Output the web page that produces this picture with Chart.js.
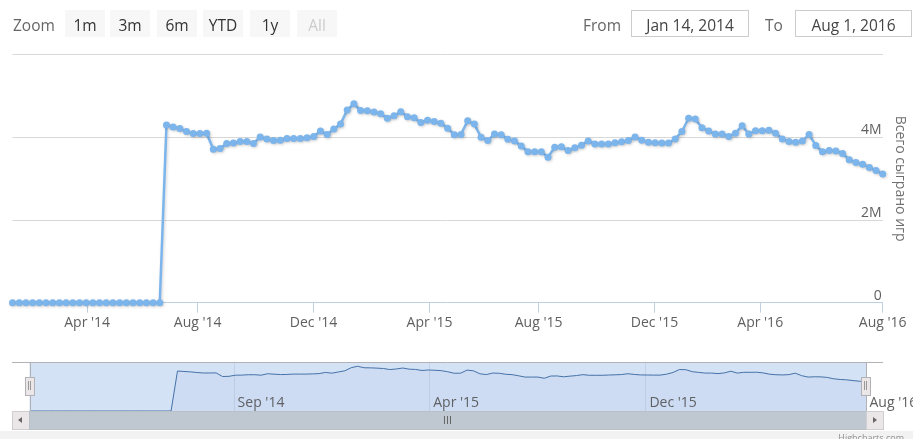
<!DOCTYPE html>
<html>
<head>
<meta charset="utf-8">
<script src="https://cdn.jsdelivr.net/npm/chart.js@4/dist/chart.umd.min.js"></script>
<style>
html,body{margin:0;padding:0;background:#f2f2f2;overflow:hidden;}
#wrap{position:relative;width:913px;height:431px;background:#fff;}
canvas{position:absolute;left:0;}
#main{top:0;}
#nav{top:340px;}
.rs{position:absolute;font-family:"Open Sans",sans-serif;font-size:15.5px;color:#666;line-height:27px;top:12px;white-space:nowrap;}
.btn{position:absolute;top:10px;width:40px;height:25px;padding-top:2px;background:#f7f7f7;text-align:center;color:#333;}
.btn.dis{color:#cccccc;}
.inp{position:absolute;top:10px;height:23px;padding-top:2px;border:1px solid #cccccc;text-align:center;color:#444;line-height:25px;}
.abs{position:absolute;}
#credit{position:absolute;right:9px;top:431px;font-family:"Open Sans",sans-serif;font-size:9px;color:#909090;}
</style>
</head>
<body>
<div id="wrap">
  <canvas id="main" width="913" height="345"></canvas>
  <canvas id="nav" width="913" height="80"></canvas>

  <div class="rs" style="left:13px;">Zoom</div>
  <div id="buttons"></div>
  <div class="rs" style="left:583px;">From</div>
  <div class="rs inp" style="left:631px;width:116px;">Jan 14, 2014</div>
  <div class="rs" style="left:765px;">To</div>
  <div class="rs inp" style="left:795px;width:115px;">Aug 1, 2016</div>

  <!-- navigator handles -->
  <div class="abs" style="left:25px;top:377px;width:8px;height:17px;background:#ebe7e8;border:1px solid #b2b1b6;"></div>
  <div class="abs" style="left:28px;top:381px;width:1px;height:9px;background:#999;"></div>
  <div class="abs" style="left:30px;top:381px;width:1px;height:9px;background:#999;"></div>
  <div class="abs" style="left:861px;top:377px;width:8px;height:17px;background:#ebe7e8;border:1px solid #b2b1b6;"></div>
  <div class="abs" style="left:864px;top:381px;width:1px;height:9px;background:#999;"></div>
  <div class="abs" style="left:866px;top:381px;width:1px;height:9px;background:#999;"></div>

  <!-- scrollbar -->
  <div class="abs" style="left:12px;top:411px;width:871px;height:18px;background:#eeeeee;"></div>
  <div class="abs" style="left:12px;top:411px;width:16px;height:17px;background:#ebe7e8;border:1px solid #cfcfcf;"></div>
  <div class="abs" style="left:18px;top:417px;width:0;height:0;border-top:3px solid transparent;border-bottom:3px solid transparent;border-right:4px solid #666;"></div>
  <div class="abs" style="left:29px;top:411px;width:836px;height:17px;background:#bfc8d1;border:1px solid #b8c0c8;"></div>
  <div class="abs" style="left:444px;top:416px;width:1px;height:8px;background:#666;"></div>
  <div class="abs" style="left:447px;top:416px;width:1px;height:8px;background:#666;"></div>
  <div class="abs" style="left:450px;top:416px;width:1px;height:8px;background:#666;"></div>
  <div class="abs" style="left:866px;top:411px;width:16px;height:17px;background:#ebe7e8;border:1px solid #cfcfcf;"></div>
  <div class="abs" style="left:873px;top:417px;width:0;height:0;border-top:3px solid transparent;border-bottom:3px solid transparent;border-left:4px solid #666;"></div>
</div>
<div id="credit">Highcharts.com</div>

<script>
// ---- data ----
const values = [
  0,0,0,0,0,0,0,0,0,0,0,0,0,0,0,0,0,0,0,0,0,0,0,
  4.30,4.25,4.21,4.14,4.09,4.09,4.10,3.71,3.73,3.85,
  3.86,3.90,3.90,3.85,4.01,3.96,3.92,3.93,3.97,3.97,
  3.97,3.99,4.02,4.15,4.07,4.20,4.32,4.66,4.81,4.65,
  4.64,4.61,4.57,4.46,4.52,4.62,4.50,4.47,4.36,4.41,
  4.38,4.34,4.22,4.06,4.07,4.40,4.32,4.00,3.92,4.08,
  4.06,3.95,3.91,3.79,3.65,3.65,3.65,3.52,3.76,3.77,
  3.68,3.75,3.81,3.91,3.84,3.84,3.84,3.87,3.89,3.92,
  4.01,3.93,3.88,3.87,3.86,3.86,3.96,4.14,4.46,4.44,
  4.23,4.15,4.08,4.08,4.02,4.10,4.28,4.08,4.16,4.16,
  4.17,4.10,3.96,3.90,3.88,3.91,4.07,3.80,3.65,3.68,
  3.67,3.61,3.46,3.39,3.35,3.27,3.20,3.11
];
const xTickPositions = [11.15, 27.66, 44.97, 62.3, 78.6, 95.9, 111.7, 130];
const xTickLabels = ["Apr '14","Aug '14","Dec '14","Apr '15","Aug '15","Dec '15","Apr '16","Aug '16"];
const navTickPositions = [31.8, 62.2, 95.8, 130];
const navTickLabels = ["Sep '14","Apr '15","Dec '15","Aug '16"];
const yTickValues = [0, 2, 4, 6];
const yTickLabels = ["0", "2M", "4M", ""];
const zoomButtons = ["1m","3m","6m","YTD","1y","All"];
const yTitle = "Всего сыграно игр";

// ---- range selector buttons ----
const btnLeft = [65,110,157,203,250,297];
const bwrap = document.getElementById('buttons');
zoomButtons.forEach((t,i)=>{
  const d = document.createElement('div');
  d.className = 'rs btn' + (t==='All' ? ' dis' : '');
  d.style.left = btnLeft[i] + 'px';
  d.textContent = t;
  bwrap.appendChild(d);
});

const points = values.map((v,i)=>({x:i, y:v}));
const FONT = "'Open Sans', sans-serif";

const shadowPlugin = {
  id:'shadow',
  beforeDatasetDraw(chart){ const c = chart.ctx; c.save(); c.shadowColor='rgba(0,0,0,0.18)'; c.shadowBlur=3; c.shadowOffsetX=1; c.shadowOffsetY=1; },
  afterDatasetDraw(chart){ chart.ctx.restore(); }
};

new Chart(document.getElementById('main'), {
  type:'line',
  data:{datasets:[{
    data: points, borderColor:'#7cb5ec', backgroundColor:'#7cb5ec',
    borderWidth:2.5, pointRadius:3.5, pointBorderWidth:0, pointBackgroundColor:'#7cb5ec',
    tension:0, clip:false
  }]},
  options:{
    responsive:false, animation:false,
    layout:{padding:{left:12.5, top:54.6, right:0, bottom:0}},
    plugins:{legend:{display:false}, tooltip:{enabled:false}},
    scales:{
      x:{
        type:'linear', min:0, max:130,
        afterBuildTicks:s=>{ s.ticks = xTickPositions.map(v=>({value:v})); },
        afterFit:s=>{ s.height = 345 - 302.7; s.paddingLeft = 0; s.paddingRight = 0; },
        ticks:{autoSkip:false, maxRotation:0, color:'#606060', font:{family:FONT, size:14}, padding:2,
               callback:(v,i)=>xTickLabels[i]},
        grid:{drawOnChartArea:false, drawTicks:true, tickLength:10, color:'#C0D0E0', lineWidth:1},
        border:{display:true, color:'#C0D0E0', width:1}
      },
      y:{
        position:'right', min:0, max:6,
        afterBuildTicks:s=>{ s.ticks = yTickValues.map(v=>({value:v})); },
        afterFit:s=>{ s.width = 913 - 882.7; },
        ticks:{mirror:true, padding:-1, labelOffset:-7, color:'#606060', font:{family:FONT, size:14},
               callback:(v,i)=>yTickLabels[i]},
        grid:{drawTicks:false, lineWidth:1, color:c=>c.tick && c.tick.value===0 ? 'rgba(0,0,0,0)' : '#D8D8D8'},
        border:{display:false},
        title:{display:true, text:yTitle, color:'#707070', font:{family:FONT, size:14}, padding:{top:4.6, bottom:0}}
      }
    }
  },
  plugins:[shadowPlugin]
});

const navPlugin = {
  id:'navmask',
  beforeDraw(chart){
    const {ctx, chartArea:a} = chart;
    ctx.save();
    ctx.fillStyle = 'rgb(212,226,246)';
    ctx.fillRect(a.left, a.top, a.right-a.left, a.bottom-a.top);
    ctx.restore();
  },
  afterDraw(chart){
    const {ctx, chartArea:a} = chart;
    ctx.save();
    ctx.strokeStyle = '#b2b1b6'; ctx.lineWidth = 1;
    ctx.beginPath();
    ctx.moveTo(12, a.top+0.5); ctx.lineTo(883, a.top+0.5);
    ctx.moveTo(Math.round(a.left)+0.5, a.top); ctx.lineTo(Math.round(a.left)+0.5, a.bottom);
    ctx.moveTo(Math.round(a.right)+0.5, a.top); ctx.lineTo(Math.round(a.right)+0.5, a.bottom);
    ctx.stroke();
    ctx.restore();
  }
};

new Chart(document.getElementById('nav'), {
  type:'line',
  data:{datasets:[{
    data: points, borderColor:'#4572A7', borderWidth:1, pointRadius:0,
    fill:'origin', backgroundColor:'rgba(69,114,167,0.05)', tension:0
  }]},
  options:{
    responsive:false, animation:false,
    layout:{padding:{left:29.5, top:22, right:47, bottom:0}},
    plugins:{legend:{display:false}, tooltip:{enabled:false}},
    scales:{
      x:{
        type:'linear', min:0, max:130,
        afterBuildTicks:s=>{ s.ticks = navTickPositions.map(v=>({value:v})); },
        afterFit:s=>{ s.height = 9; s.paddingLeft = 0; s.paddingRight = 0; },
        ticks:{autoSkip:false, maxRotation:0, align:'start', mirror:true, padding:0, labelOffset:3.5,
               color:'#606060', font:{family:FONT, size:14}, callback:(v,i)=>navTickLabels[i]},
        grid:{drawTicks:false, color:'#c3d1e6', lineWidth:1},
        border:{display:false}
      },
      y:{display:false, min:0, max:5.27}
    }
  },
  plugins:[navPlugin]
});
</script>
</body>
</html>
